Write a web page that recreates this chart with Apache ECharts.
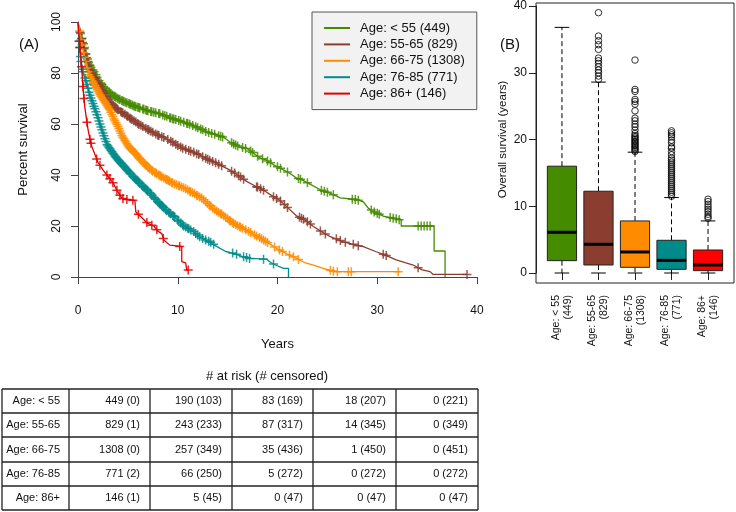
<!DOCTYPE html>
<html>
<head>
<meta charset="utf-8">
<script src="https://cdn.jsdelivr.net/npm/echarts@6/dist/echarts.min.js"></script>
<style>html,body{margin:0;padding:0;background:#fff}#c{width:736px;height:512px}</style>
</head>
<body>
<div id="c"></div>
<script>
// ---------- data ----------
const categories = ['Age: < 55', 'Age: 55-65', 'Age: 66-75', 'Age: 76-85', 'Age: 86+'];
const groupN = [449, 829, 1308, 771, 146];
const lineColors = ['#458B00', '#8B3E2F', '#FF8C00', '#008B8B', '#E00000'];
const boxColors = ['#458B00', '#8B3E2F', '#FF8C00', '#008B8B', '#FF0000'];

const xTicks = [0, 10, 20, 30, 40];
const yTicks = [0, 20, 40, 60, 80, 100];

const curveLt55 = [[0,100],[0.15,97],[0.3,95],[0.5,92],[0.7,89],[0.9,86],[1.1,83.5],[1.4,81.5],[1.7,80],[2.0,77.5],[2.5,75],[3.0,72.8],[3.5,71.3],[4.0,70],[4.7,68.6],[5.5,67.3],[6.4,66],[7.2,65],[8.0,64.2],[9.0,62.8],[10.4,61],[11.3,59.8],[12.2,58.2],[13.0,56.8],[14.0,55.6],[14.6,54.8],[15.2,53],[16.2,51],[17.0,50.3],[17.6,48.5],[18.2,46.8],[18.9,45.8],[19.6,44],[20.6,42],[21.3,40.5],[21.9,38.8],[22.5,38],[23.3,36.3],[24.3,34.2],[25.3,32.8],[26.3,31],[27.9,30.4],[28.6,29.5],[29.1,27],[29.6,25.7],[30.6,23.9],[31.6,23],[32.4,22.4],[32.4,20],[35.7,20],[35.7,10.2],[36.8,10.2],[36.8,0]];
const curve55to65 = [[0,100],[0.15,97],[0.3,94.5],[0.5,91],[0.7,88],[0.9,85.5],[1.2,82],[1.6,79],[1.9,77],[2.3,74],[2.7,71.5],[3.1,69],[3.6,67],[4.1,65.3],[4.8,63.5],[5.6,61.3],[6.6,58.7],[7.6,56.5],[8.8,54.3],[9.7,52.3],[10.6,50.3],[11.4,49.2],[12.2,47.8],[13.0,46.2],[13.8,44.8],[14.6,43.2],[15.2,42],[16.0,40],[16.9,37.5],[17.8,35.6],[18.6,34],[19.4,32],[20.25,30],[20.9,27.6],[21.9,24],[22.9,22],[23.6,19.8],[24.4,17.8],[25.3,15.8],[26.6,13.8],[27.6,12.8],[28.6,11.9],[29.9,9.9],[30.8,8.6],[31.9,6.7],[32.8,5.6],[33.6,4.7],[34.5,2.8],[35.3,2.1],[35.6,1.0],[39.0,1.0]];
const curve66to75 = [[0,100],[0.1,97.5],[0.25,94],[0.5,89],[0.8,83.5],[1.2,78.5],[1.7,75],[2.2,71.5],[2.7,68.5],[3.2,65.5],[3.6,62],[4.0,59],[4.4,55.5],[4.7,53.5],[5.1,51],[5.5,49.5],[6.4,45.5],[7.3,42],[8.5,39],[9.7,36.5],[10.6,35],[11.5,33],[12.4,31],[13.5,27],[14.6,24],[15.6,21],[16.9,18.3],[18.2,15.5],[18.6,14.5],[19.3,12.8],[20.0,11],[21.0,9],[21.9,7.3],[22.8,5.5],[23.6,4.7],[24.5,3.5],[25.3,2.6],[25.9,2.1],[32.3,2.1]];
const curve76to85 = [[0,100],[0.05,95],[0.12,91],[0.2,88],[0.37,82.5],[0.6,79],[0.87,76],[1.1,72.5],[1.37,69.5],[1.87,64],[2.2,60],[2.5,56.5],[2.9,52],[3.5,48.5],[4.0,46],[4.7,43],[5.5,39.5],[6.4,36],[7.2,33],[8.0,29.5],[8.9,26],[9.7,23.5],[10.6,20],[11.5,18],[12.2,15.8],[12.8,14.5],[13.9,12],[14.8,10],[15.6,9.3],[16.5,8],[17.2,7.3],[18.9,7],[19.4,5.5],[19.8,4.7],[20.6,3.4],[21.1,3.4],[21.1,0]];
const curve86plus = [[0,100],[0.1,95],[0.2,90],[0.3,85],[0.4,80],[0.55,72],[0.7,66],[0.85,62],[1.0,58],[1.2,54],[1.4,51],[1.6,49],[2.0,45],[2.5,42],[3.0,39.5],[3.5,37],[3.9,34],[4.3,31.5],[4.6,30.5],[5.7,30],[5.8,25.5],[6.2,24],[7.0,21],[7.6,20],[8.0,18],[8.4,17],[8.6,14.5],[9.2,12.5],[10.4,12],[10.4,6],[10.8,5.5],[10.9,2.7],[11.1,2.7]];

const censLt55 = [[0.25,95.5],[0.4,93.5],[0.55,91.5],[0.65,90],[0.8,87.5],[0.95,85.5],[1.05,84],[1.2,83],[1.3,82.3],[1.5,81.2],[1.6,80.5],[1.8,79.3],[1.9,78.3],[2.1,77],[2.3,76],[2.4,75.5],[2.6,74.5],[2.75,74],[2.9,73.2],[3.1,72.5],[3.3,71.9],[3.45,71.4],[3.6,71],[3.8,70.5],[3.95,70.1],[4.2,69.6],[4.4,69.2],[4.6,68.8],[4.9,68.3],[5.1,68],[5.3,67.6],[5.6,67.1],[5.8,66.8],[6.0,66.6],[6.2,66.3],[6.6,65.8],[6.8,65.5],[7.0,65.2],[7.4,64.8],[7.6,64.6],[7.8,64.4],[8.2,64],[8.5,63.5],[8.7,63.2],[9.2,62.5],[9.5,62.1],[9.8,61.8],[10.1,61.4],[10.6,60.7],[10.9,60.3],[11.5,59.4],[11.8,58.9],[12.0,58.5],[12.5,57.7],[12.8,57.1],[13.4,56.3],[13.7,56],[14.3,55.2],[14.5,54.9],[15.4,52.6],[15.6,52.2],[16.0,51.4],[16.5,50.8],[17.3,49.4],[17.5,48.8],[18.0,47.4],[18.5,46.4],[19.0,45.5],[19.3,44.8],[20.0,43.2],[20.3,42.6],[21.0,41.2],[22.1,38.6],[22.3,38.3],[23.0,37],[24.4,34],[24.7,33.6],[25.0,33.2],[25.6,32.3],[27.5,30.5],[27.8,30.4],[28.1,30.1],[29.4,26.3],[29.7,25.5],[30.0,25],[30.2,24.6],[31.3,23.3],[31.6,23],[31.9,22.8],[32.2,22.5],[34.1,20],[34.4,20],[34.7,20],[35.0,20],[35.3,20]];
const censLt55More = [[3.2,72.2],[3.7,70.8],[4.1,69.8],[4.5,69],[4.75,68.5],[5.2,67.8],[5.45,67.4],[5.7,67],[6.1,66.5],[6.5,65.9],[6.9,65.3],[7.3,64.9],[8.1,64.1],[8.9,63],[9.3,62.4],[9.6,62],[10.3,61.1],[11.0,60.2],[11.2,59.9],[12.3,58],[13.1,56.7],[14.1,55.4],[15.8,51.8],[16.8,50.4]];
const cens55to65 = [[0.2,96],[0.35,93.5],[0.45,92],[0.6,89.5],[0.75,87.5],[0.85,86],[1.0,84.5],[1.1,83],[1.3,81.3],[1.45,80],[1.7,78.3],[1.8,77.7],[2.0,76.3],[2.2,74.8],[2.4,73.3],[2.5,72.7],[2.8,70.8],[2.9,70.2],[3.2,68.6],[3.4,67.8],[3.7,66.6],[3.9,66],[4.3,64.8],[4.5,64.3],[4.7,63.8],[5.0,62.9],[5.2,62.4],[5.4,61.8],[5.8,60.8],[6.0,60.2],[6.3,59.5],[6.8,58.3],[7.0,57.8],[7.3,57.2],[7.8,56.1],[8.1,55.5],[8.4,55],[9.0,53.9],[9.3,53.2],[10.0,51.6],[10.3,51],[10.8,50.1],[11.1,49.6],[11.6,48.9],[11.9,48.3],[12.5,47.2],[12.8,46.6],[13.2,45.8],[13.5,45.3],[14.1,44.2],[14.4,43.6],[15.4,41.5],[15.7,40.8],[16.1,39.7],[16.6,38.3],[17.9,35.4],[18.3,34.6],[18.6,34],[19.9,30.8],[20.3,29.8],[20.7,28.4],[21.0,27.3],[22.2,23.4],[22.6,22.6],[23.0,21.7],[23.3,20.8],[24.3,18],[24.8,16.9],[25.9,15],[26.3,14.3],[26.8,13.6],[27.6,12.8],[28.1,12.3],[30.6,8.9],[30.9,8.4],[34.1,3.6],[39.0,1.0]];
const cens55to65More = [[2.1,75.5],[2.6,72.1],[3.0,69.6],[3.3,68.2],[3.5,67.4],[3.8,66.3],[4.0,65.6],[4.4,64.5],[4.9,63.2],[5.3,62.1],[5.6,61.3],[6.1,59.8],[6.5,59],[7.1,57.6],[7.5,56.8],[8.0,55.7],[8.6,54.7],[9.5,52.8],[9.8,52.1],[10.5,50.5],[11.3,49.3],[12.1,48],[13.0,46.2],[13.8,44.8],[16.3,39.2],[18.0,35.2],[19.6,31.5],[22.4,23]];
const cens66to75 = [[0.15,96.5],[0.3,93],[0.4,91],[0.55,88],[0.65,86.2],[0.75,84.5],[0.9,82],[1.0,80.5],[1.1,79.3],[1.3,77.8],[1.4,77],[1.55,76],[1.65,75.3],[1.8,74.3],[1.9,73.6],[2.0,72.9],[2.1,72.2],[2.3,70.9],[2.4,70.3],[2.5,69.7],[2.6,69.1],[2.8,67.9],[2.9,67.3],[3.0,66.7],[3.1,66.1],[3.3,64.6],[3.4,63.7],[3.5,62.9],[3.7,61.3],[3.8,60.5],[3.9,59.8],[4.1,58.1],[4.2,57.3],[4.3,56.4],[4.5,54.8],[4.6,54.2],[4.8,52.9],[4.9,52.3],[5.0,51.6],[5.2,50.6],[5.3,50.3],[5.4,49.9],[5.6,49],[5.8,48.2],[5.9,47.8],[6.1,46.8],[6.2,46.4],[6.5,45.1],[6.7,44.3],[6.9,43.6],[7.0,43.2],[7.2,42.4],[7.5,41.5],[7.7,41],[7.9,40.5],[8.1,40],[8.3,39.5],[8.6,38.8],[8.8,38.4],[9.0,38],[9.2,37.5],[9.4,37.1],[9.9,36.2],[10.1,35.8],[10.4,35.3],[10.8,34.6],[11.0,34.1],[11.3,33.4],[11.7,32.6],[11.9,32.1],[12.2,31.4],[12.6,30.3],[12.8,29.5],[13.0,28.8],[13.3,27.8],[13.7,26.5],[13.9,25.9],[14.1,25.4],[14.4,24.6],[14.8,23.4],[15.0,22.8],[15.3,21.9],[15.5,21.3],[15.8,20.6],[16.0,20.1],[16.3,19.5],[16.5,19.1],[17.1,17.9],[17.3,17.5],[17.7,16.6],[17.9,16.1],[18.4,15],[18.8,14],[19.0,13.5],[19.7,11.8],[20.2,10.6],[20.5,10],[21.2,8.6],[21.6,7.9],[22.1,6.9],[25.3,2.6],[25.6,2.3],[26.0,2.1],[27.1,2.1],[27.4,2.1],[32.1,2.1]];
const cens66to75More = [[1.2,78.5],[1.5,76.5],[1.7,75],[2.2,71.5],[2.7,68.5],[3.2,65.5],[3.6,62],[4.0,59],[4.4,55.5],[4.7,53.5],[5.1,51],[5.5,49.5],[5.7,48.6],[6.0,47.3],[6.3,45.9],[6.6,44.7],[6.8,43.9],[7.1,42.8],[7.4,41.8],[7.8,40.8],[8.2,39.8],[8.4,39.3],[8.9,38.2],[9.1,37.8],[9.5,36.9],[9.7,36.5],[10.2,35.7],[10.6,35],[11.2,33.6],[11.5,33],[12.0,31.9],[12.4,31],[13.2,28.1],[13.5,27],[14.3,24.8],[14.6,24],[15.2,22.2],[15.6,21],[16.2,19.7],[16.8,18.5],[18.2,15.5],[18.6,14.5]];
const cens76to85 = [[0.1,92.5],[0.15,90],[0.25,86.5],[0.3,84.5],[0.45,81.5],[0.5,80.5],[0.7,78],[0.8,77],[1.0,74],[1.2,71.3],[1.3,70.2],[1.5,68],[1.6,67],[1.7,66],[2.0,62.5],[2.1,61.2],[2.3,58.8],[2.4,57.7],[2.6,55.4],[2.7,54.2],[3.0,51.4],[3.1,50.8],[3.2,50.3],[3.4,49.1],[3.6,48],[3.7,47.5],[3.9,46.5],[4.1,45.6],[4.3,44.7],[4.5,43.9],[4.6,43.4],[4.9,42.1],[5.1,41.3],[5.3,40.4],[5.7,38.7],[5.9,37.9],[6.1,37.2],[6.6,35.3],[6.8,34.5],[7.0,33.8],[7.4,32.1],[7.6,31.3],[7.8,30.4],[8.2,28.7],[8.4,28],[8.6,27.2],[9.1,25.4],[9.3,24.8],[9.5,24.1],[10.0,22.3],[10.3,21.2],[10.8,19.6],[11.1,18.9],[11.8,17.1],[12.0,16.5],[12.5,15.1],[13.1,14],[13.3,13.6],[13.6,12.8],[15.5,9.4],[15.9,8.9],[16.6,7.9],[16.9,7.6],[17.2,7.3],[18.6,7],[19.6,5.1]];
const cens76to85More = [[0.9,75.5],[1.1,72.5],[1.4,69.1],[1.8,64.8],[1.9,63.6],[2.2,60],[2.5,56.5],[2.8,53.1],[2.9,52],[3.3,49.7],[3.5,48.5],[3.8,47],[4.0,46],[4.2,45.1],[4.4,44.3],[4.7,43],[4.8,42.5],[5.0,41.7],[5.2,40.8],[5.5,39.5],[5.6,39.1],[5.8,38.3],[6.0,37.6],[6.2,36.8],[6.4,36],[6.5,35.6],[6.7,34.9],[6.9,34.1],[7.2,33],[7.3,32.6],[7.7,30.8],[8.0,29.5],[8.1,29.1],[8.3,28.3],[8.5,27.6],[8.8,26.4],[8.9,26],[9.2,25.1],[9.6,23.8],[9.7,23.5],[10.1,21.9],[10.5,20.4],[10.6,20],[11.0,19.1],[11.3,18.4],[11.6,17.8],[12.2,15.8],[12.8,14.5]];
const cens86plus = [[0.15,92.5],[0.2,90],[0.35,82.5],[0.5,74.7],[0.6,70],[0.9,60.7],[1.2,54],[1.3,52.5],[1.87,46.3],[2.2,43.8],[2.9,40],[3.2,38.5],[3.5,37],[3.9,34],[4.2,32.1],[4.5,30.8],[4.9,30.4],[5.5,30.1],[6.05,24.6],[6.9,21.4],[7.4,20.3],[7.9,18.5],[8.55,15.1],[10.2,12],[11.05,2.7]];
const cens86plusMore = [];

// box plot stats: [lower whisker, Q1, median, Q3, upper whisker]
const boxLt55 = [0, 1.85, 6.1, 16.0, 36.8];
const box55to65 = [0, 1.2, 4.3, 12.25, 28.6];
const box66to75 = [0, 0.85, 3.15, 7.8, 18.1];
const box76to85 = [0, 0.55, 1.9, 4.9, 11.3];
const box86plus = [0, 0.35, 1.2, 3.45, 7.8];
const outLt55 = [];
const out55to65 = [29.0, 29.5, 30.0, 30.4, 30.9, 31.4, 31.8, 32.2, 33.5, 34.2, 34.8, 35.5, 39.0];
const out66to75 = [18.2, 18.4, 18.6, 18.8, 19.0, 19.2, 19.4, 19.6, 19.8, 20.0, 20.2, 20.4, 20.6, 20.9, 21.4, 21.9, 22.3, 22.8, 23.2, 24.3, 25.3, 25.7, 26.0, 27.2, 27.5, 31.9];
const out76to85 = [11.5, 11.8, 12.1, 12.4, 12.7, 13.0, 13.3, 13.6, 13.9, 14.2, 14.5, 14.8, 15.1, 15.4, 15.7, 16.0, 16.3, 16.6, 16.9, 17.2, 17.7, 18.2, 18.7, 18.9, 19.5, 19.9, 20.4, 20.7, 21.0, 21.3];
const out86plus = [8.2, 8.45, 8.8, 9.2, 9.55, 9.9, 10.3, 10.7, 11.05];
const boxTicks = [0, 10, 20, 30, 40];

// at-risk table
const riskTimes = [0, 10, 20, 30, 40];
const atRisk = [[449,190,83,18,0],[829,243,87,14,0],[1308,257,35,1,0],[771,66,5,0,0],[146,5,0,0,0]];
const censored = [[0,103,169,207,221],[1,233,317,345,349],[0,349,436,450,451],[2,250,272,272,272],[1,45,47,47,47]];

// ---------- build ----------
const FONT = '"Liberation Sans", Arial, sans-serif';
const curves = [curveLt55, curve55to65, curve66to75, curve76to85, curve86plus];
const censors = [censLt55.concat(censLt55More), cens55to65.concat(cens55to65More), cens66to75.concat(cens66to75More), cens76to85.concat(cens76to85More), cens86plus.concat(cens86plusMore)];
const boxes = [boxLt55, box55to65, box66to75, box76to85, box86plus];
const outliers = [outLt55, out55to65, out66to75, out76to85, out86plus];
const legendNames = categories.map((c, i) => c + ' (' + groupN[i] + ')');
const boxLabels = categories.map((c, i) => c + '\n(' + groupN[i] + ')');
const plus = 'path://M3.75,0h1.5v3.75h3.75v1.5h-3.75v3.75h-1.5v-3.75h-3.75v-1.5h3.75z';

const series = [];
curves.forEach((cv, i) => {
  series.push({
    name: legendNames[i], type: 'line', xAxisIndex: 0, yAxisIndex: 0,
    data: cv, showSymbol: false, symbol: 'none', silent: true, z: 2 + i,
    lineStyle: { color: lineColors[i], width: 1.3 }, itemStyle: { color: lineColors[i] }
  });
  series.push({
    type: 'scatter', xAxisIndex: 0, yAxisIndex: 0, data: censors[i], symbol: plus,
    symbolSize: 9, silent: true, z: 2 + i, itemStyle: { color: lineColors[i], opacity: 0.85 }
  });
});

function renderBox(params, api) {
  const i = api.value(0);
  const lo = api.coord([i, api.value(1)]);
  const q1 = api.coord([i, api.value(2)]);
  const md = api.coord([i, api.value(3)]);
  const q3 = api.coord([i, api.value(4)]);
  const hi = api.coord([i, api.value(5)]);
  const bw = api.size([1, 0])[0] * 0.8;
  const x = q1[0];
  const dash = { stroke: '#000', lineWidth: 1, lineDash: [5, 3] };
  const solid = { stroke: '#000', lineWidth: 1 };
  return {
    type: 'group', children: [
      { type: 'line', shape: { x1: x, y1: q3[1], x2: x, y2: hi[1] }, style: dash },
      { type: 'line', shape: { x1: x, y1: q1[1], x2: x, y2: lo[1] }, style: dash },
      { type: 'line', shape: { x1: x - bw / 4, y1: hi[1], x2: x + bw / 4, y2: hi[1] }, style: solid },
      { type: 'line', shape: { x1: x - bw / 4, y1: lo[1], x2: x + bw / 4, y2: lo[1] }, style: solid },
      { type: 'rect', shape: { x: x - bw / 2, y: q3[1], width: bw, height: q1[1] - q3[1] },
        style: { fill: boxColors[params.dataIndex], stroke: '#222', lineWidth: 1 } },
      { type: 'line', shape: { x1: x - bw / 2, y1: md[1], x2: x + bw / 2, y2: md[1] },
        style: { stroke: '#000', lineWidth: 3 } }
    ]
  };
}
series.push({
  type: 'custom', xAxisIndex: 1, yAxisIndex: 1, silent: true,
  data: boxes.map((b, i) => [i].concat(b)),
  encode: { x: 0, y: [1, 2, 3, 4, 5] }, renderItem: renderBox, z: 3
});
const outData = [];
outliers.forEach((arr, i) => arr.forEach(v => outData.push([i, v])));
series.push({
  type: 'scatter', xAxisIndex: 1, yAxisIndex: 1, data: outData, symbol: 'circle',
  symbolSize: 6.5, silent: true, z: 4,
  itemStyle: { color: 'rgba(255,255,255,0)', borderColor: '#000', borderWidth: 1 }
});

// table graphics
const colX = [2, 69, 150, 232, 313, 396, 478];
const rowY = [389, 413, 437, 462, 486, 510];
const graphics = [];
rowY.forEach(y => graphics.push({ type: 'line', shape: { x1: colX[0], y1: y, x2: colX[6], y2: y }, style: { stroke: '#222', lineWidth: 1.3 } }));
colX.forEach(x => graphics.push({ type: 'line', shape: { x1: x, y1: rowY[0], x2: x, y2: rowY[5] }, style: { stroke: '#222', lineWidth: 1.3 } }));
categories.forEach((c, r) => {
  const yc = (rowY[r] + rowY[r + 1]) / 2;
  graphics.push({ type: 'text', style: { text: c, x: 60, y: yc, font: '11px ' + FONT, fill: '#111', align: 'right', verticalAlign: 'middle', textAlign: 'right', textVerticalAlign: 'middle' } });
  riskTimes.forEach((t, k) => {
    graphics.push({ type: 'text', style: { text: atRisk[r][k] + ' (' + censored[r][k] + ')', x: colX[k + 2] - 10, y: yc, font: '11px ' + FONT, fill: '#111', align: 'right', verticalAlign: 'middle', textAlign: 'right', textVerticalAlign: 'middle' } });
  });
});
graphics.push({ type: 'text', style: { text: '# at risk (# censored)', x: 267, y: 376, font: '13px ' + FONT, fill: '#111', align: 'center', verticalAlign: 'middle', textAlign: 'center', textVerticalAlign: 'middle' } });
graphics.push({ type: 'text', style: { text: '(A)', x: 29, y: 45, font: '15px ' + FONT, fill: '#111', align: 'center', verticalAlign: 'middle', textAlign: 'center', textVerticalAlign: 'middle' } });
graphics.push({ type: 'text', style: { text: '(B)', x: 510, y: 45, font: '15px ' + FONT, fill: '#111', align: 'center', verticalAlign: 'middle', textAlign: 'center', textVerticalAlign: 'middle' } });
graphics.push({ type: 'rect', shape: { x: 536, y: 3, width: 198, height: 280 }, style: { fill: 'none', stroke: '#222', lineWidth: 1 } });

const axisCol = '#444';
const option = {
  animation: false,
  backgroundColor: '#fff',
  textStyle: { fontFamily: FONT },
  grid: [
    { left: 78, top: 22, width: 399, height: 255 },
    { left: 543.7, top: 6, width: 182.6, height: 267 }
  ],
  legend: {
    data: legendNames, orient: 'vertical', left: 312, top: 12,
    padding: [9, 12, 9, 12], itemWidth: 26, itemHeight: 2, itemGap: 2.4, icon: 'rect',
    backgroundColor: '#F2F2F2', borderColor: '#555', borderWidth: 1, borderRadius: 0,
    textStyle: { fontSize: 13, color: '#111', lineHeight: 14, padding: [0, 0, 0, 5], fontFamily: FONT },
    selectedMode: false
  },
  xAxis: [
    { type: 'value', gridIndex: 0, min: xTicks[0], max: xTicks[xTicks.length - 1], interval: 10, offset: 15,
      axisLine: { show: true, lineStyle: { color: axisCol } }, axisTick: { show: true, length: 7, lineStyle: { color: axisCol } },
      splitLine: { show: false }, axisLabel: { fontSize: 12, color: '#111', margin: 13 },
      name: 'Years', nameLocation: 'middle', nameGap: 46, nameTextStyle: { fontSize: 13, color: '#111' } },
    { type: 'category', gridIndex: 1, data: boxLabels, offset: 10,
      axisLine: { show: false }, axisTick: { show: true, alignWithLabel: true, length: 7, lineStyle: { color: '#222' } },
      axisLabel: { rotate: 90, interval: 0, fontSize: 10.5, lineHeight: 12, color: '#111', margin: 12 } }
  ],
  yAxis: [
    { type: 'value', gridIndex: 0, min: yTicks[0], max: yTicks[yTicks.length - 1], interval: 20,
      axisLine: { show: true, lineStyle: { color: axisCol } }, axisTick: { show: true, length: 7, lineStyle: { color: axisCol } },
      splitLine: { show: false }, axisLabel: { rotate: 90, fontSize: 12, color: '#111', margin: 15 },
      name: 'Percent survival', nameLocation: 'middle', nameGap: 48, nameTextStyle: { fontSize: 13, color: '#111' } },
    { type: 'value', gridIndex: 1, min: boxTicks[0], max: boxTicks[boxTicks.length - 1], interval: 10, offset: 7.7,
      axisLine: { show: true, lineStyle: { color: '#222' } }, axisTick: { show: true, length: 7, lineStyle: { color: '#222' } },
      splitLine: { show: false }, axisLabel: { fontSize: 12, color: '#111', margin: 9 },
      name: 'Overall survival (years)', nameLocation: 'middle', nameGap: 27, nameTextStyle: { fontSize: 11.5, color: '#111' } }
  ],
  graphic: graphics,
  series: series
};
const chart = echarts.init(document.getElementById('c'), null, { renderer: 'canvas' });
chart.setOption(option);
</script>
</body>
</html>
